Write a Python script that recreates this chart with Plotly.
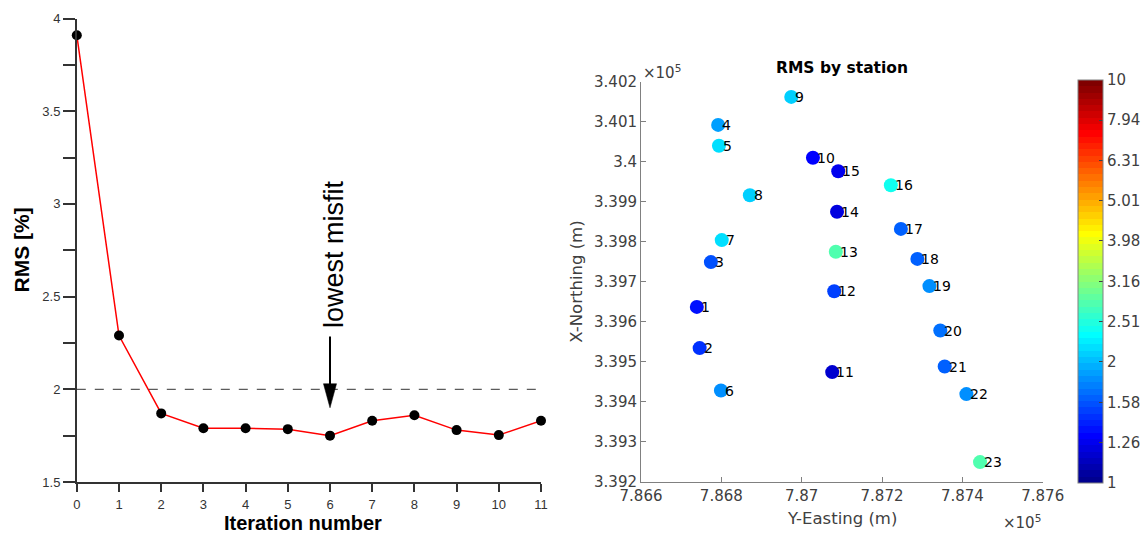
import numpy as np
import plotly.graph_objects as go

# ---- inversion convergence -------------------------------------------------
iterations = list(range(12))
rms_iter = [3.91, 2.29, 1.87, 1.79, 1.79, 1.785, 1.75, 1.83, 1.86, 1.78, 1.753, 1.83]
target_rms = 2.0

# ---- stations: UTM coordinates (m) and RMS (%) -----------------------------
station_ids = list(range(1, 24))
easting = [786739, 786746, 786774, 786792, 786794, 786799, 786801, 786871,
           786974, 787028, 787076, 787081, 787085, 787088, 787091, 787222,
           787247, 787288, 787318, 787345, 787356, 787410, 787444]
northing = [339637, 339534, 339749, 340092, 340040, 339428, 339804, 339916,
            340162, 340010, 339474, 339676, 339775, 339875, 339976, 339941,
            339832, 339757, 339689, 339578, 339488, 339419, 339249]
rms_station = [1.36, 1.46, 1.57, 1.87, 2.19, 1.83, 2.17, 2.07,
               2.07, 1.30, 1.16, 1.51, 2.79, 1.22, 1.27, 2.41,
               1.62, 1.63, 1.81, 1.66, 1.62, 1.80, 2.79]

# ---- axis ticks ------------------------------------------------------------
easting_ticks = [786600, 786800, 787000, 787200, 787400, 787600]
northing_ticks = [339200, 339300, 339400, 339500, 339600, 339700,
                  339800, 339900, 340000, 340100, 340200]
cbar_ticks = [1, 1.26, 1.58, 2, 2.51, 3.16, 3.98, 5.01, 6.31, 7.94, 10]


def jet(m=64):
    """MATLAB-style jet colormap with m entries (RGB in 0..1)."""
    n = int(np.ceil(m / 4))
    u = np.concatenate([np.arange(1, n + 1) / n, np.ones(n - 1), np.arange(n, 0, -1) / n])
    g = int(np.ceil(n / 2)) - (1 if m % 4 == 1 else 0) + np.arange(1, len(u) + 1)
    r = g + n
    b = g - n
    g = g[g <= m]
    r = r[r <= m]
    b = b[b >= 1]
    J = np.zeros((m, 3))
    J[r - 1, 0] = u[:len(r)]
    J[g - 1, 1] = u[:len(g)]
    J[b - 1, 2] = u[len(u) - len(b):]
    return J


def stepped_scale(cmap):
    m = len(cmap)
    scale = []
    for i, (r, g, b) in enumerate(cmap):
        col = f"rgb({int(round(r * 255))},{int(round(g * 255))},{int(round(b * 255))})"
        scale.append([i / m, col])
        scale.append([(i + 1) / m, col])
    return scale


jet_scale = stepped_scale(jet(64))

W, H = 1143, 533
ARIAL = "Liberation Sans, Arial, sans-serif"
DEJAVU = "DejaVu Sans, sans-serif"
GREY_TXT = "#404040"

fig = go.Figure()

# RMS versus iteration
fig.add_trace(go.Scatter(
    x=iterations, y=rms_iter, mode="lines+markers",
    line=dict(color="#ff0000", width=1.5),
    marker=dict(color="black", size=10),
    cliponaxis=False, showlegend=False, xaxis="x", yaxis="y",
))

# RMS by station, coloured on a log scale
fig.add_trace(go.Scatter(
    x=easting, y=northing, mode="markers",
    marker=dict(
        size=14, color=np.log10(rms_station), cmin=0, cmax=1,
        colorscale=jet_scale, line=dict(width=0),
        colorbar=dict(
            x=1078 / W, xanchor="left", xpad=0, ypad=0,
            y=(H - 482.7) / H, yanchor="bottom",
            len=(482.7 - 80) / H, lenmode="fraction",
            thickness=25, thicknessmode="pixels",
            outlinecolor="#808080", outlinewidth=1,
            tickvals=np.log10(cbar_ticks).tolist(),
            ticktext=[f"{t:g}" for t in cbar_ticks],
            ticks="inside", ticklen=4, tickcolor="#404040",
            tickfont=dict(family=DEJAVU, size=15, color=GREY_TXT),
        ),
    ),
    cliponaxis=False, showlegend=False, xaxis="x2", yaxis="y2",
))

annotations = []
for sid, e, n in zip(station_ids, easting, northing):
    annotations.append(dict(
        x=e, y=n, xref="x2", yref="y2", text=str(sid), showarrow=False,
        xanchor="left", yanchor="middle", xshift=2,
        font=dict(family=DEJAVU, size=14, color="black"),
    ))

# lowest-misfit marker
best = int(np.argmin(rms_iter))
annotations.append(dict(
    x=iterations[best], y=2.73, xref="x", yref="y", text="lowest misfit",
    textangle=-90, showarrow=False, xshift=4,
    font=dict(family=ARIAL, size=27, color="black"),
))

# axis titles and decorations
annotations += [
    dict(x=303 / W, y=0, xref="paper", yref="paper", text="<b>Iteration number</b>",
         showarrow=False, xanchor="center", yanchor="bottom", yshift=-3,
         font=dict(family=ARIAL, size=20, color="black")),
    dict(x=21.4 / W, y=1 - 250 / H, xref="paper", yref="paper", text="<b>RMS [%]</b>",
         showarrow=False, textangle=-90, xanchor="center", yanchor="middle",
         font=dict(family=ARIAL, size=21, color="black")),
    dict(x=841.7 / W, y=1 - 68 / H, xref="paper", yref="paper", text="<b>RMS by station</b>",
         showarrow=False, xanchor="center", yanchor="middle",
         font=dict(family=DEJAVU, size=15.5, color="black")),
    dict(x=841.7 / W, y=1 - 518 / H, xref="paper", yref="paper", text="Y-Easting (m)",
         showarrow=False, xanchor="center", yanchor="middle",
         font=dict(family=DEJAVU, size=16.5, color=GREY_TXT)),
    dict(x=577 / W, y=1 - 281.7 / H, xref="paper", yref="paper", text="X-Northing (m)",
         showarrow=False, textangle=-90, xanchor="center", yanchor="middle",
         font=dict(family=DEJAVU, size=16.5, color=GREY_TXT)),
    dict(x=641 / W, y=1 - 72 / H, xref="paper", yref="paper", text="×10<sup>5</sup>",
         showarrow=False, xanchor="left", yanchor="middle",
         font=dict(family=DEJAVU, size=15, color=GREY_TXT)),
    dict(x=1043 / W, y=1 - 522 / H, xref="paper", yref="paper", text="×10<sup>5</sup>",
         showarrow=False, xanchor="right", yanchor="middle",
         font=dict(family=DEJAVU, size=15, color=GREY_TXT)),
]

x_best = iterations[best]
shapes = [
    # target misfit level
    dict(type="line", xref="x", yref="y", x0=iterations[0], x1=iterations[-1],
         y0=target_rms, y1=target_rms, line=dict(color="#333333", width=1, dash="dash")),
    # arrow shaft and head pointing at the lowest misfit
    dict(type="line", xref="x", yref="y", x0=x_best, x1=x_best, y0=2.285, y1=2.02,
         line=dict(color="black", width=2)),
    dict(type="path", xref="x", yref="y",
         path=f"M {x_best - 0.155} 2.03 L {x_best + 0.155} 2.03 L {x_best} 1.90 Z",
         fillcolor="black", line=dict(color="black", width=0.5)),
]

fig.update_layout(
    width=W, height=H,
    margin=dict(l=0, r=0, t=0, b=0, autoexpand=False),
    paper_bgcolor="white", plot_bgcolor="white",
    annotations=annotations, shapes=shapes,
    xaxis=dict(
        domain=[76.8 / W, 541 / W], range=[0, 11], anchor="y",
        tickmode="array", tickvals=iterations,
        showline=True, linecolor="#333333", linewidth=1.5,
        ticks="outside", ticklen=8, tickcolor="#333333", tickwidth=1.5,
        ticklabelstandoff=2,
        tickfont=dict(family=ARIAL, size=13, color="#333333"),
        showgrid=False, zeroline=False,
    ),
    yaxis=dict(
        domain=[(H - 482) / H, (H - 18.5) / H], range=[1.5, 4], anchor="x",
        tick0=1.5, dtick=0.5,
        showline=True, linecolor="#333333", linewidth=1.5,
        ticks="outside", ticklen=12, tickcolor="#333333", tickwidth=1.5,
        minor=dict(dtick=0.25, tick0=1.5, ticks="outside", ticklen=12,
                   tickcolor="#333333", tickwidth=1.5, showgrid=False),
        tickfont=dict(family=ARIAL, size=13, color="#333333"),
        showgrid=False, zeroline=False,
    ),
    xaxis2=dict(
        domain=[641 / W, 1042.7 / W], range=[easting_ticks[0], easting_ticks[-1]], anchor="y2",
        tickmode="array", tickvals=easting_ticks,
        ticktext=[f"{v / 1e5:g}" for v in easting_ticks],
        showline=True, linecolor="#808080", linewidth=1,
        ticks="inside", ticklen=5, tickcolor="#808080",
        tickfont=dict(family=DEJAVU, size=15, color=GREY_TXT),
        showgrid=False, zeroline=False,
    ),
    yaxis2=dict(
        domain=[(H - 481.7) / H, (H - 81.7) / H], range=[northing_ticks[0], northing_ticks[-1]],
        anchor="x2",
        tickmode="array", tickvals=northing_ticks,
        ticktext=[f"{v / 1e5:g}" for v in northing_ticks],
        showline=True, linecolor="#808080", linewidth=1,
        ticks="inside", ticklen=5, tickcolor="#808080",
        tickfont=dict(family=DEJAVU, size=15, color=GREY_TXT),
        showgrid=False, zeroline=False,
    ),
)

fig.write_html("out.html")
